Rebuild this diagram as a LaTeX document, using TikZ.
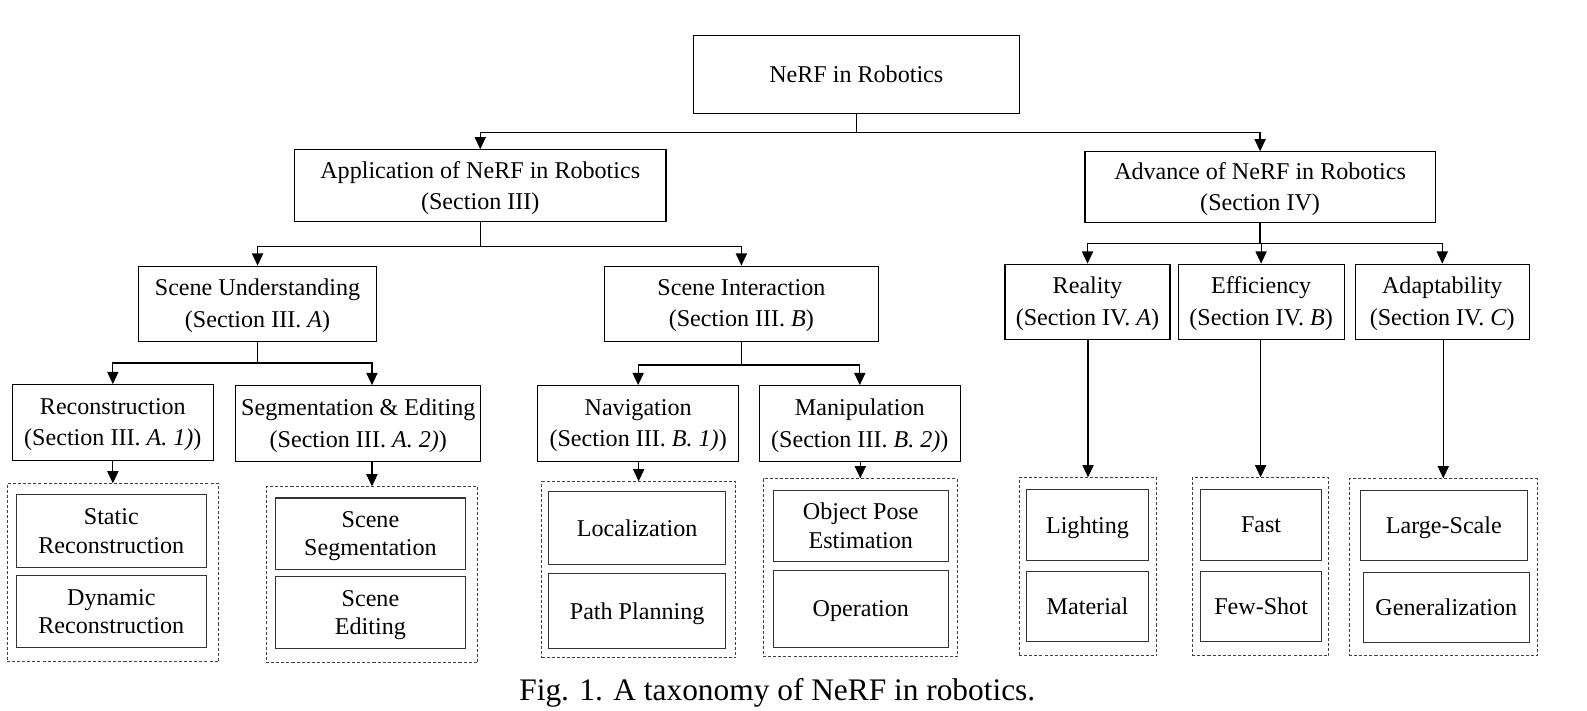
\documentclass[tikz,border=0pt]{standalone}
\usepackage{fontspec}
\setmainfont{Liberation Serif}
\usetikzlibrary{arrows.meta}
\newcommand\bx[7]{\node[#6, minimum width={#4-#2}, minimum height={#5-#3}] (#1) at ({(#2+#4)/2},{(#3+#5)/2}) {#7};}
\begin{document}
\begin{tikzpicture}[x=1pt,y=-1pt,
  box/.style={draw=black, line width=1.1pt, align=center, inner sep=0pt, text depth=1pt, font=\fontsize{23.8}{31}\selectfont},
  inbox/.style={draw=black!80, line width=1.1pt, align=center, inner sep=0pt, text depth=1pt, font=\fontsize{23.8}{28}\selectfont},
  grp/.style={draw=black!75, line width=0.9pt, dash pattern=on 3pt off 2pt, inner sep=0pt},
  conn/.style={line width=1.2pt},
  arr/.style={line width=1.2pt, -{Triangle[length=12pt,width=11pt]}},
]
\useasboundingbox[fill=white] (0,0) rectangle (1568,702);
% top levels
\bx{root}{685}{35}{1007}{112}{box}{NeRF in Robotics}
\bx{app}{291}{148}{658}{219}{box}{Application of NeRF in Robotics\\(Section III)}
\bx{adv}{1072}{150}{1418}{220}{box}{Advance of NeRF in Robotics\\(Section IV)}
\bx{su}{137}{263}{372}{337}{box}{Scene Understanding\\(Section III. \textit{A})}
\bx{si}{597}{263}{868}{337}{box}{Scene Interaction\\(Section III. \textit{B})}
\bx{real}{993}{261}{1156}{335}{box}{Reality\\(Section IV. \textit{A})}
\bx{eff}{1164}{261}{1328}{335}{box}{Efficiency\\(Section IV. \textit{B})}
\bx{adapt}{1339}{261}{1511}{335}{box}{Adaptability\\(Section IV. \textit{C})}
\bx{recon}{12}{380}{211}{455}{box}{Reconstruction\\(Section III. \textit{A. 1)})}
\bx{seg}{233}{381}{475}{456}{box}{Segmentation \& Editing\\(Section III. \textit{A. 2)})}
\bx{nav}{531}{381}{730}{456}{box}{Navigation\\(Section III. \textit{B. 1)})}
\bx{man}{750}{381}{949}{456}{box}{Manipulation\\(Section III. \textit{B. 2)})}
% groups
\bx{grecon}{7}{478}{216}{654}{grp}{}
\bx{gseg}{263}{481}{472}{655}{grp}{}
\bx{gnav}{535}{476}{727}{650}{grp}{}
\bx{gman}{754}{473}{946}{649}{grp}{}
\bx{greal}{1007}{472}{1143}{648}{grp}{}
\bx{geff}{1178}{472}{1313}{648}{grp}{}
\bx{gadapt}{1333}{473}{1519}{648}{grp}{}
% leaves
\bx{static}{16}{489}{204}{561}{inbox}{Static\\Reconstruction}
\bx{dynamic}{16}{569}{204}{640}{inbox}{Dynamic\\Reconstruction}
\bx{sseg}{272}{492}{460}{563}{inbox}{Scene\\Segmentation}
\bx{sedit}{272}{570}{460}{641}{inbox}{Scene\\Editing}
\bx{loc}{542}{486}{717}{558}{inbox}{Localization}
\bx{path}{542}{567}{717}{641}{inbox}{Path Planning}
\bx{pose}{764}{485}{937}{555}{inbox}{Object Pose\\Estimation}
\bx{oper}{764}{564}{937}{640}{inbox}{Operation}
\bx{light}{1014}{484}{1135}{554}{inbox}{Lighting}
\bx{mat}{1014}{565}{1135}{634}{inbox}{Material}
\bx{fast}{1186}{484}{1306}{554}{inbox}{Fast}
\bx{few}{1186}{565}{1306}{634}{inbox}{Few-Shot}
\bx{large}{1344}{485}{1509}{554}{inbox}{Large-Scale}
\bx{gen}{1347}{566}{1511}{635}{inbox}{Generalization}
% connectors
\draw[arr] (root.south) -- ++(0,18) -| (app.north);
\draw[arr] (root.south) -- ++(0,18) -| (adv.north);
\draw[arr] (app.south) -- ++(0,24) -| (su.north);
\draw[arr] (app.south) -- ++(0,24) -| (si.north);
\draw[arr] (adv.south) -- ++(0,20) -| (real.north);
\draw[arr] (adv.south) -- ++(0,20) -| (eff.north);
\draw[arr] (adv.south) -- ++(0,20) -| (adapt.north);
\draw[arr] (su.south) -- ++(0,21) -| (recon.north);
\draw[arr] (su.south) -- ++(0,21) -| (gseg.north |- seg.north);
\draw[arr] (si.south) -- ++(0,23) -| (nav.north);
\draw[arr] (si.south) -- ++(0,23) -| (man.north);
\draw[arr] (recon.south) -- (grecon.north);
\draw[arr] (gseg.north |- seg.south) -- (gseg.north);
\draw[arr] (gnav.north |- nav.south) -- (gnav.north);
\draw[arr] (gman.north |- man.south) -- (gman.north);
\draw[arr] (greal.north |- real.south) -- (greal.north);
\draw[arr] (geff.north |- eff.south) -- (geff.north);
\draw[arr] (gadapt.north |- adapt.south) -- (gadapt.north);
% caption
\node[font=\fontsize{31}{36}\selectfont, inner sep=0pt] (cap) at (768,685) {Fig. 1. A taxonomy of NeRF in robotics.};
\end{tikzpicture}
\end{document}
